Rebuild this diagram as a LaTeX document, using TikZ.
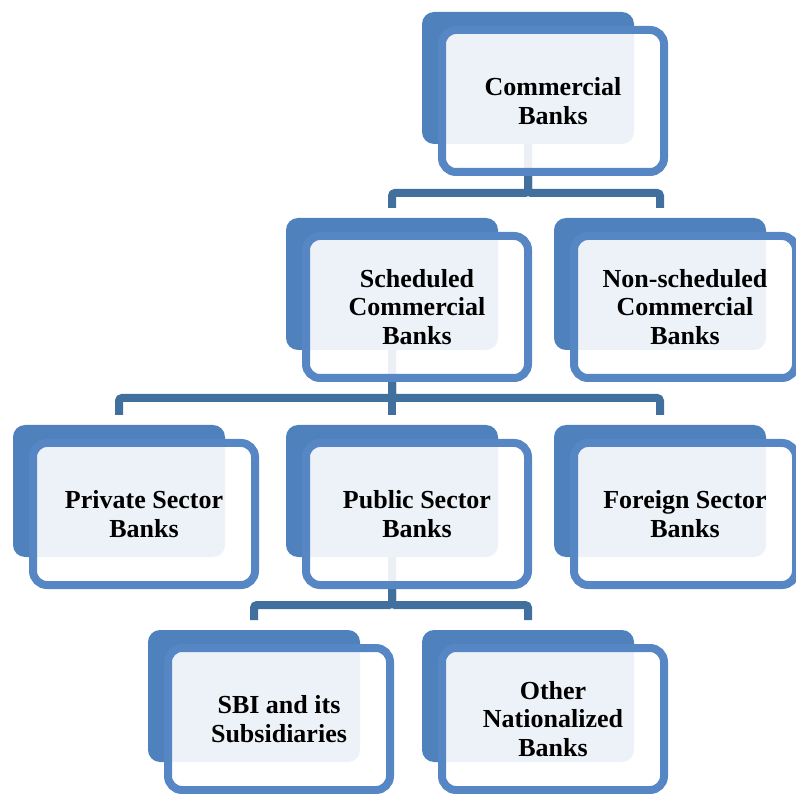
\documentclass[tikz,border=0pt]{standalone}
\usepackage{fontspec}
\setmainfont{Liberation Serif}
\usetikzlibrary{calc}

\definecolor{backblue}{HTML}{4F81BD}
\definecolor{frameblue}{HTML}{5686C3}
\definecolor{linkblue}{HTML}{41709F}

\tikzset{
  backbox/.style={fill=backblue, rounded corners=12pt, minimum width=212pt,
    minimum height=132pt, inner sep=0pt, outer sep=0pt, anchor=north west},
  frontbox/.style={draw=frameblue, line width=8pt, fill=white, fill opacity=0.9,
    text opacity=1, rounded corners=14pt, minimum width=222pt, minimum height=142pt,
    inner sep=0pt, outer sep=0pt, anchor=north west, align=center, text=black,
    font=\bfseries\fontsize{26}{28.5}\selectfont},
  link/.style={draw=linkblue, line width=8pt, rounded corners=3pt},
}

% back plate of a unit: name, x, y
\newcommand\backplate[3]{\node[backbox] (#1b) at (#2,#3) {};}
% framed front card of a unit: name, text
\newcommand\frontcard[2]{\node[frontbox] (#1) at ($(#1b.north west)+(20,18)$) {#2};}

\begin{document}
\begin{tikzpicture}[x=1pt, y=-1pt]
  \useasboundingbox (0,0) rectangle (796,794);

  % back plates
  \backplate{cb}{422}{12}
  \backplate{sc}{286}{218}
  \backplate{ns}{554}{218}
  \backplate{pv}{13}{425}
  \backplate{pb}{286}{425}
  \backplate{fr}{554}{425}
  \backplate{sbi}{148}{630}
  \backplate{on}{422}{630}

  % connectors (drawn below the translucent front cards)
  \draw[link] (cbb.south) |- ($(scb.north)+(0,-25)$) -- ($(scb.north)+(0,-10)$);
  \draw[link] (cbb.south) |- ($(nsb.north)+(0,-25)$) -- ($(nsb.north)+(0,-10)$);

  \draw[link] (scb.south) |- ($(pvb.north)+(0,-27)$) -- ($(pvb.north)+(0,-10)$);
  \draw[link] (scb.south) -- ($(pbb.north)+(0,-10)$);
  \draw[link] (scb.south) |- ($(frb.north)+(0,-27)$) -- ($(frb.north)+(0,-10)$);

  \draw[link] (pbb.south) |- ($(sbib.north)+(0,-25)$) -- ($(sbib.north)+(0,-10)$);
  \draw[link] (pbb.south) |- ($(onb.north)+(0,-25)$) -- ($(onb.north)+(0,-10)$);

  % front cards
  \frontcard{cb}{Commercial\\Banks}
  \frontcard{sc}{Scheduled\\Commercial\\Banks}
  \frontcard{ns}{Non-scheduled\\Commercial\\Banks}
  \frontcard{pv}{Private Sector\\Banks}
  \frontcard{pb}{Public Sector\\Banks}
  \frontcard{fr}{Foreign Sector\\Banks}
  \frontcard{sbi}{SBI and its\\Subsidiaries}
  \frontcard{on}{Other\\Nationalized\\Banks}
\end{tikzpicture}
\end{document}
